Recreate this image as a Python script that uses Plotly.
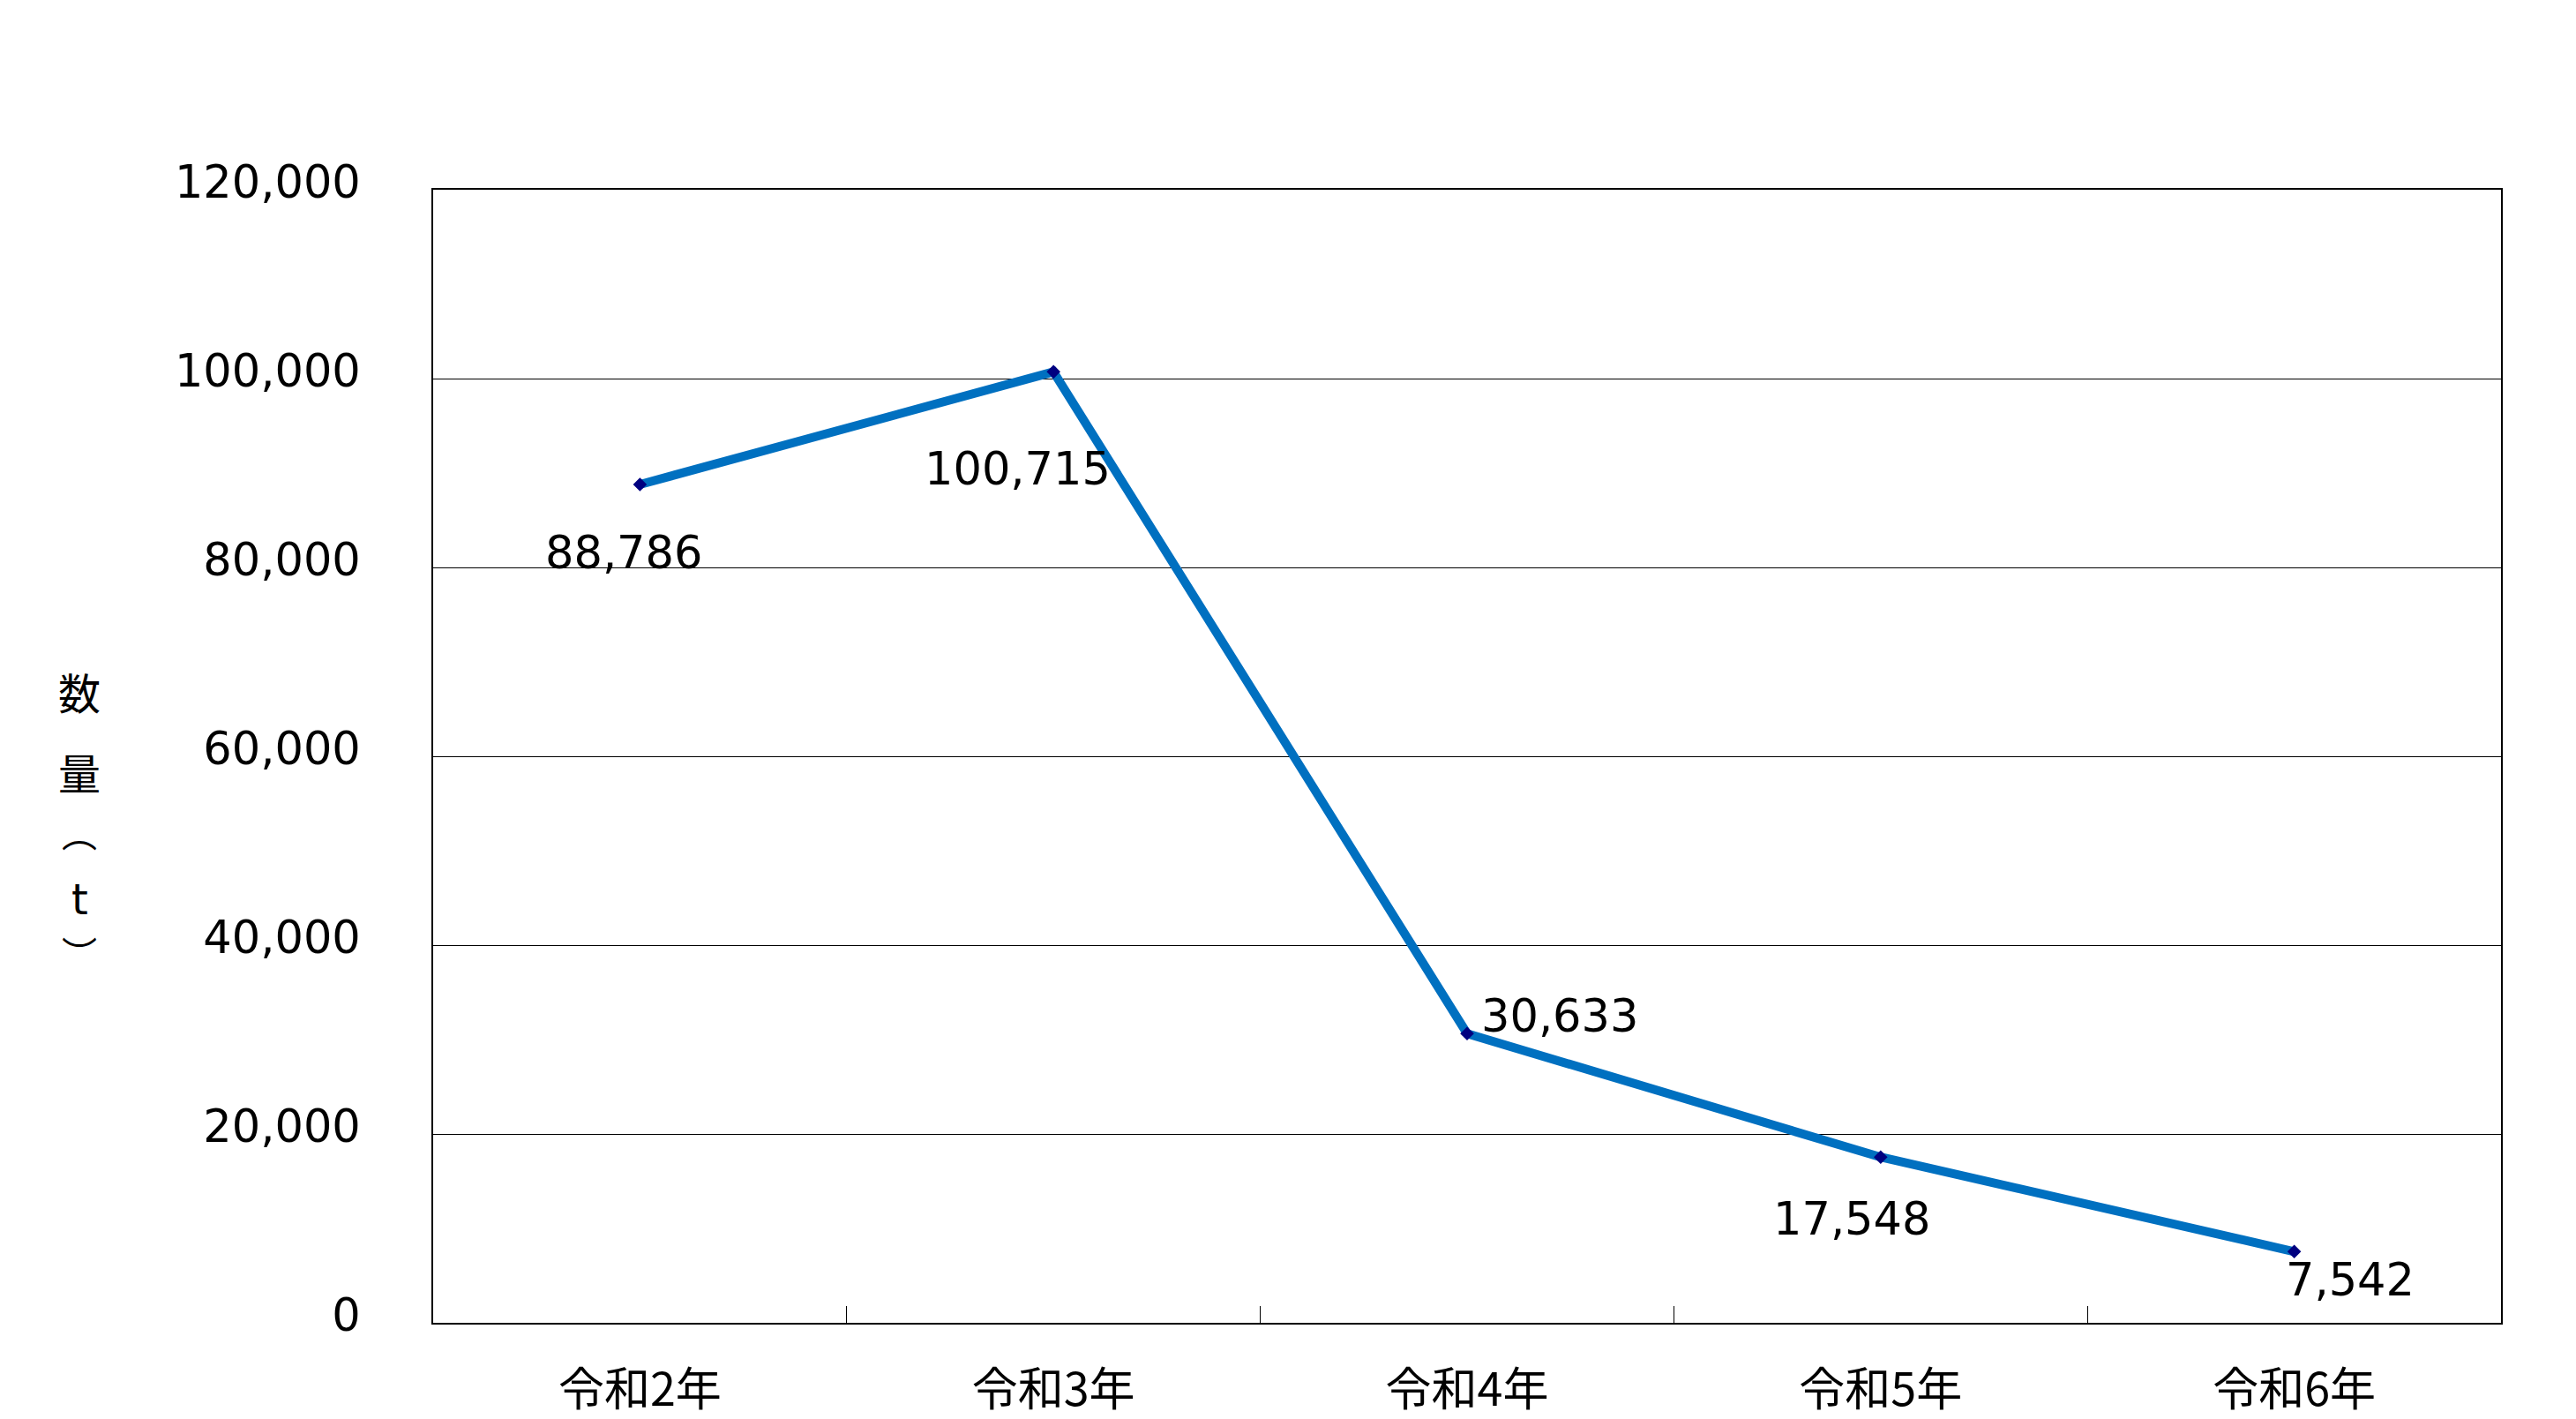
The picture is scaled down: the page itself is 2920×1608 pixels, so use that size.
import plotly.graph_objects as go

categories = ["令和2年", "令和3年", "令和4年", "令和5年", "令和6年"]
values = [88786, 100715, 30633, 17548, 7542]
label_texts = ["88,786", "100,715", "30,633", "17,548", "7,542"]
label_dx = [-18, -41, 105, -33, 63]
label_dy = [-78, -110, 20, -70, -32]
y_ticks = [0, 20000, 40000, 60000, 80000, 100000, 120000]
y_title_parts = ["数", "量", "︵", "t", "︶"]
y_title_pos = [0.5580, 0.4871, 0.4330, 0.3735, 0.3270]
y_title_sizes = [48, 48, 40, 48, 40]
y_title_fonts = ["Noto Sans CJK JP", "Noto Sans CJK JP", "Noto Sans CJK JP",
                 "DejaVu Sans", "Noto Sans CJK JP"]

fig = go.Figure()
fig.add_trace(go.Scatter(
    x=categories, y=values, mode="lines+markers",
    line=dict(color="#0070C0", width=10),
    marker=dict(symbol="diamond", size=12, color="#000080"),
    hoverinfo="skip", showlegend=False,
))

annotations = []
for c, v, t, dx, dy in zip(categories, values, label_texts, label_dx, label_dy):
    annotations.append(dict(
        x=c, y=v, xref="x", yref="y", text=t, showarrow=False,
        xshift=dx, yshift=dy,
        font=dict(family="DejaVu Sans", size=51, color="#000000"),
    ))
for ch, yp, fs, ff in zip(y_title_parts, y_title_pos, y_title_sizes, y_title_fonts):
    annotations.append(dict(
        x=-0.1710, y=yp, xref="paper", yref="paper", text=ch, showarrow=False,
        xanchor="center", yanchor="middle",
        font=dict(family=ff, size=fs, color="#000000"),
    ))

fig.update_layout(
    width=2920, height=1608,
    margin=dict(l=483, r=93, t=207, b=117, autoexpand=False),
    paper_bgcolor="white", plot_bgcolor="white",
    annotations=annotations,
    xaxis=dict(
        type="category", range=[-0.5, 4.5], automargin=False,
        showline=True, mirror=True, linecolor="#000000", linewidth=2,
        showgrid=False, zeroline=False,
        ticks="inside", tickson="boundaries", ticklen=19,
        tickcolor="#000000", tickwidth=1,
        ticklabelstandoff=30,
        tickfont=dict(family="Noto Sans CJK JP", size=52, color="#000000"),
    ),
    yaxis=dict(
        range=[0, 120000], tickvals=y_ticks, tickformat=",", automargin=False,
        showline=True, mirror=True, linecolor="#000000", linewidth=2,
        showgrid=True, gridcolor="#000000", gridwidth=1,
        zeroline=False, ticks="",
        ticklabelstandoff=70, ticklabelshift=-9,
        tickfont=dict(family="DejaVu Sans", size=51, color="#000000"),
    ),
)

fig.write_html("out.html")
